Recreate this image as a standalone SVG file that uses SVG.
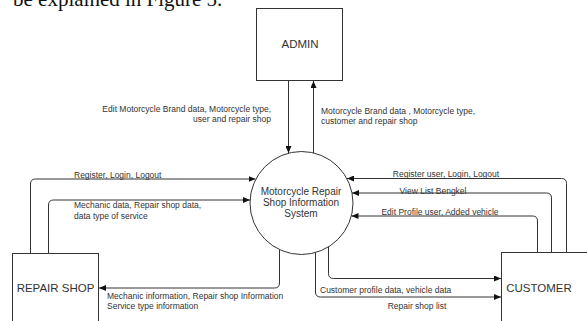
<svg xmlns="http://www.w3.org/2000/svg" width="587" height="321" viewBox="0 0 587 321">
<style>
.bg{fill:#fff}
.node{fill:#fff;stroke:#333;stroke-width:1}
.ntext{font-family:"Liberation Sans",Arial,sans-serif;font-size:11.5px;fill:#333;text-anchor:middle}
.ctext{font-family:"Liberation Sans",Arial,sans-serif;font-size:10px;fill:#333;text-anchor:middle}
.lbl{font-family:"Liberation Sans",Arial,sans-serif;font-size:8.5px;fill:#333}
.mid{text-anchor:middle}
.end{text-anchor:end}
.edge{fill:none;stroke:#333;stroke-width:1}
.doc{font-family:"Liberation Serif","Times New Roman",serif;font-size:21px;fill:#111}
</style>
<defs>
<marker id="arr" markerWidth="7" markerHeight="6" refX="7" refY="3" orient="auto" markerUnits="userSpaceOnUse">
<path d="M0,0 L7,3 L0,6 Z" fill="#111"/>
</marker>
</defs>
<rect class="bg" x="0" y="0" width="587" height="321"/>
<text class="doc" x="13" y="6">be explained in Figure 5.</text>

<g id="connectors">
<path class="edge" d="M288.5 80.5 V153" marker-end="url(#arr)"/>
<path class="edge" d="M313.5 153 V81" marker-end="url(#arr)"/>
<path class="edge" d="M30.5 253.5 V184 Q30.5 179 35.5 179 H255.5" marker-end="url(#arr)"/>
<path class="edge" d="M48.5 253.5 V205 Q48.5 200 53.5 200 H250" marker-end="url(#arr)"/>
<path class="edge" d="M279.5 249.5 V283 Q279.5 288 274.5 288 H99" marker-end="url(#arr)"/>
<path class="edge" d="M566.5 252.5 V183.5 Q566.5 178.5 561.5 178.5 H347" marker-end="url(#arr)"/>
<path class="edge" d="M551.5 252.5 V198 Q551.5 193 546.5 193 H352" marker-end="url(#arr)"/>
<path class="edge" d="M537.5 252.5 V221 Q537.5 216 532.5 216 H351.5" marker-end="url(#arr)"/>
<path class="edge" d="M328.5 247 V273.5 Q328.5 278.5 333.5 278.5 H501" marker-end="url(#arr)"/>
<path class="edge" d="M315.5 252.5 V292 Q315.5 297 320.5 297 H501" marker-end="url(#arr)"/>

<text class="lbl end" x="271" y="112">Edit Motorcycle Brand data, Motorcycle type,</text>
<text class="lbl end" x="271" y="122">user and repair shop</text>
<text class="lbl" x="321" y="114">Motorcycle Brand data , Motorcycle type,</text>
<text class="lbl" x="321" y="124">customer and repair shop</text>
<text class="lbl" x="74" y="178">Register, Login, Logout</text>
<text class="lbl" x="74" y="208">Mechanic data, Repair shop data,</text>
<text class="lbl" x="74" y="219">data type of service</text>
<text class="lbl" x="107" y="299">Mechanic information, Repair shop Information</text>
<text class="lbl" x="107" y="309">Service type information</text>
<text class="lbl mid" x="446" y="177">Register user, Login, Logout</text>
<text class="lbl mid" x="433" y="193.5">View List Bengkel</text>
<text class="lbl mid" x="440" y="214.5">Edit Profile user, Added vehicle</text>
<text class="lbl" x="320" y="293">Customer profile data, vehicle data</text>
<text class="lbl mid" x="417" y="308.5">Repair shop list</text>
</g>

<g id="admin">
<rect class="node" x="256.5" y="8.5" width="86" height="72"/>
<text class="ntext" x="300" y="48">ADMIN</text>
</g>
<g id="system">
<circle class="node" cx="301.5" cy="203" r="51.5"/>
<text class="ctext" x="301" y="195">Motorcycle Repair</text>
<text class="ctext" x="301" y="206">Shop Information</text>
<text class="ctext" x="301" y="217">System</text>
</g>
<g id="repair-shop">
<rect class="node" x="12.5" y="253.5" width="86" height="80"/>
<text class="ntext" x="55.5" y="292">REPAIR SHOP</text>
</g>
<g id="customer">
<rect class="node" x="501.5" y="252.5" width="100" height="80"/>
<text class="ntext" x="539" y="292">CUSTOMER</text>
</g>
</svg>
